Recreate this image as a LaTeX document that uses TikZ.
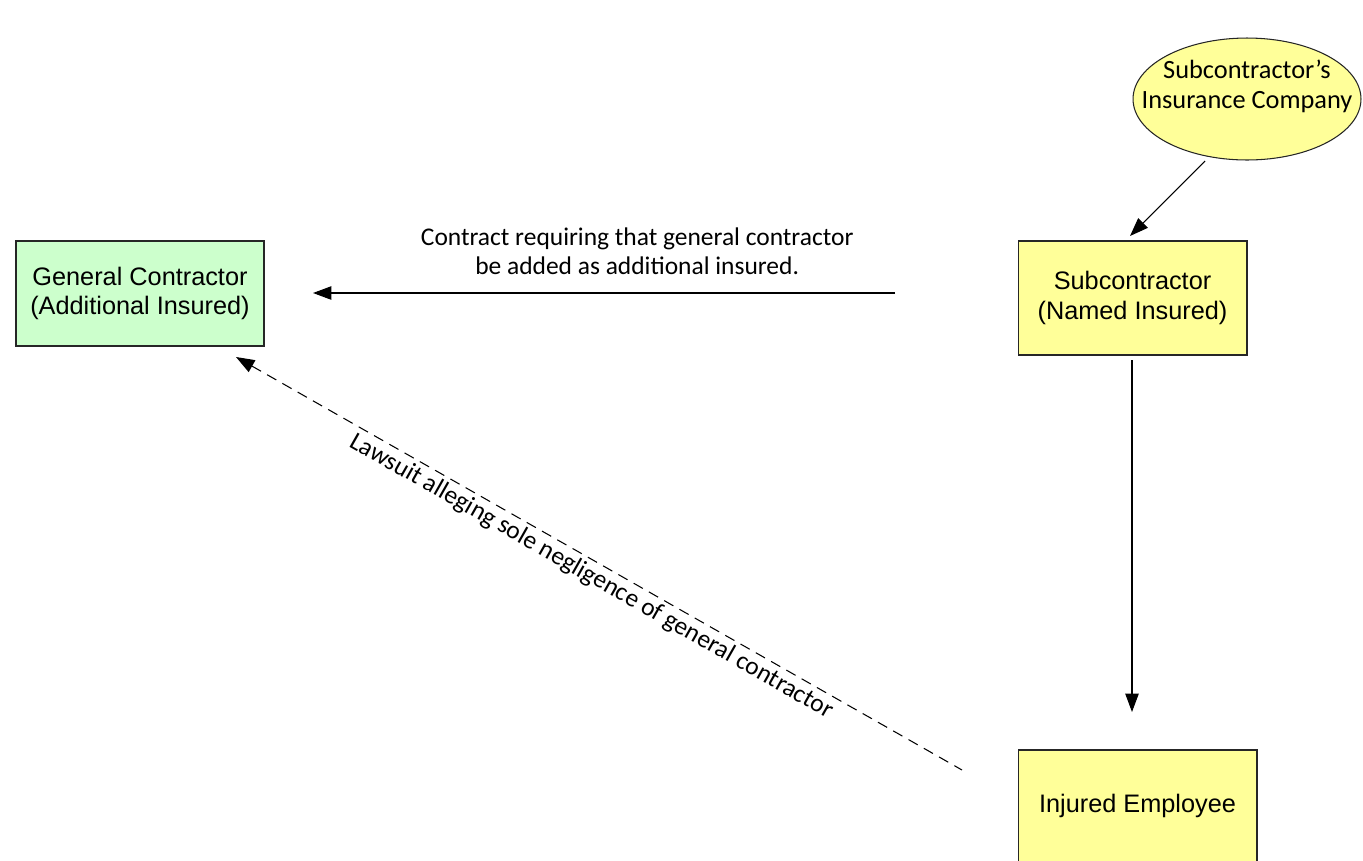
\documentclass[tikz,border=0pt]{standalone}
\usepackage{fontspec}
\setmainfont{Liberation Sans}
\newfontfamily\calibri{Carlito}
\usetikzlibrary{arrows.meta,shapes.geometric}
\definecolor{gcgreen}{HTML}{CCFFCC}
\definecolor{subyellow}{HTML}{FFFF99}
\tikzset{
	>={Triangle[length=3.7mm,width=2.7mm]},
	party/.style={draw=black!85, line width=0.6pt, align=center, inner sep=0pt,
		font=\fontsize{14.4}{17}\selectfont},
	insurer/.style={ellipse, draw=black!85, line width=0.6pt, fill=subyellow, inner sep=0pt},
	link/.style={line width=0.6pt},
	elabel/.style={align=center, inner sep=2pt, font=\calibri\fontsize{14.5}{16.5}\selectfont}
}

\begin{document}
\begin{tikzpicture}[x=0.02cm, y=-0.02cm]
		%%%%% START %%%%%
		\useasboundingbox (0,0) rectangle (1363,860);
		
		% parties
		\node[party, fill=gcgreen, minimum width=4.96cm, minimum height=2.1cm] (gc) at (140,293.5) {General Contractor\\(Additional Insured)};
		\node[party, fill=subyellow, minimum width=4.58cm, minimum height=2.28cm] (sub) at (1132.5,298) {Subcontractor\\(Named Insured)};
		\node[party, fill=subyellow, minimum width=4.78cm, minimum height=2.24cm] (emp) at (1137.5,806) {Injured Employee};
		\node[insurer, minimum width=4.56cm, minimum height=2.44cm] (ins) at (1247,99) {};
		\node[elabel, font=\calibri\fontsize{15}{17}\selectfont] (insText) at (1247,86) {Subcontractor’s\\Insurance Company};
		
		% free ends of the arrows
		\coordinate (insOut) at (1205,161);
		\coordinate (subIn) at (1130,236);
		\coordinate (contractOut) at (895,293);
		\coordinate (gcIn) at (313,293);
		\coordinate (subOut) at (1132,360);
		\coordinate (empIn) at (1132,712);
		\coordinate (suitOut) at (962,770);
		\coordinate (gcSuit) at (236,357);
		
		% arrows
		\draw[link, ->] (insOut) -- (subIn);
		\draw[link, ->] (contractOut) -- node[elabel, pos=0.443, yshift=23.8pt] (contractLbl) {Contract requiring that general contractor\\be added as additional insured.} (gcIn);
		\draw[link, ->] (subOut) -- (empIn);
		\draw[link, <-, dash pattern=on 6pt off 4pt] (gcSuit) -- node[elabel, sloped, below, pos=0.5] (suitLbl) {Lawsuit alleging sole negligence of general contractor} (suitOut);
		
		%%%%% END %%%%%
\end{tikzpicture}
\end{document}
